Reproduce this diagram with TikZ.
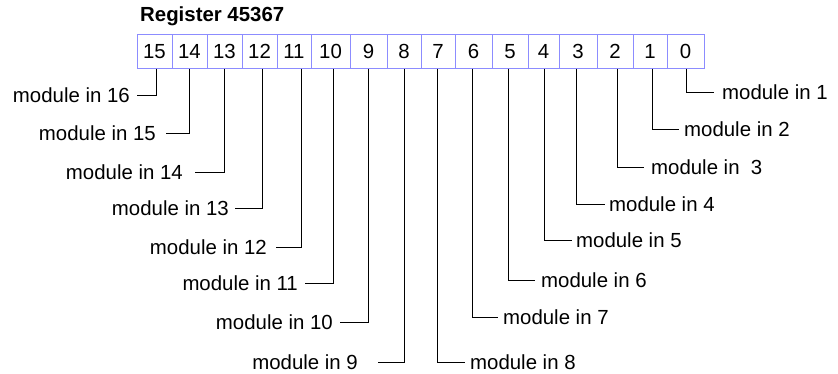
\documentclass[tikz,border=0pt]{standalone}
\usepackage{fontspec}
\setmainfont{Liberation Sans}
\usetikzlibrary{positioning}
\definecolor{regblue}{HTML}{8C8CFF}
\definecolor{ink}{HTML}{000000}
\tikzset{bitbox/.style={draw=regblue, line width=1pt, minimum height=34pt, inner sep=0pt, text height=14.6pt, text depth=0pt},
  modlbl/.style={inner sep=0pt, text height=14.6pt, text depth=0pt},
  lead/.style={ink, line width=0.8pt}}

\begin{document}
\begin{tikzpicture}[x=1pt, y=-1pt, font=\fontsize{20.4}{24}\selectfont]
  \useasboundingbox (0,0) rectangle (838,373);
  \node[font=\fontsize{20.4}{24}\selectfont\bfseries, anchor=base west, inner sep=0pt] (title) at (140,21) {Register 45367};
  % register bits, high byte then low byte
  \foreach \b/\l/\r in {15/137/172, 14/172/207, 13/207/242, 12/242/277, 11/277/311, 10/311/350, 9/350/387, 8/387/421,
                        7/421/455, 6/455/492, 5/492/528, 4/528/559, 3/559/597, 2/597/633, 1/633/667, 0/667/704}
     \node[bitbox, minimum width={(\r-\l)*1pt}] (b\b) at ({(\l+\r)/2},51) {\b};
  % leads to the left
  \foreach \b/\o/\n/\y/\tx/\g/\txt in {15/1.5/16/95/130/7/{module in 16}, 14/0/15/133/156/10/{module in 15}, 13/0/14/172/183/12/{module in 14},
        12/2.5/13/208/229/6/{module in 13}, 11/7/12/247/267/9/{module in 12}, 10/2.5/11/283/298/7/{module in 11},
        9/0/10/322/333/7/{module in 10}, 8/0/9/362/358/20/{module in 9}}{
     \node[modlbl, anchor=east] (m\n) at (\tx,\y) {\txt};
     \draw[lead] ([xshift=\o pt]b\b.south) |- ([xshift=\g pt]m\n.east);}
  % leads to the right
  \foreach \b/\o/\n/\y/\tx/\g/\txt in {0/0.5/1/92/722/8/{module in 1}, 1/2/2/129/684/5/{module in 2}, 2/2/3/167/651/7/{module in\ \ 3},
        3/-2/4/204/609/4/{module in 4}, 4/0.5/5/240/576/4/{module in 5}, 5/-2/6/280/541/6/{module in 6},
        6/-1.5/7/317/503/5/{module in 7}, 7/-1/8/362/470/5/{module in 8}}{
     \node[modlbl, anchor=west] (m\n) at (\tx,\y) {\txt};
     \draw[lead] ([xshift=\o pt]b\b.south) |- ([xshift=-\g pt]m\n.west);}
\end{tikzpicture}
\end{document}
